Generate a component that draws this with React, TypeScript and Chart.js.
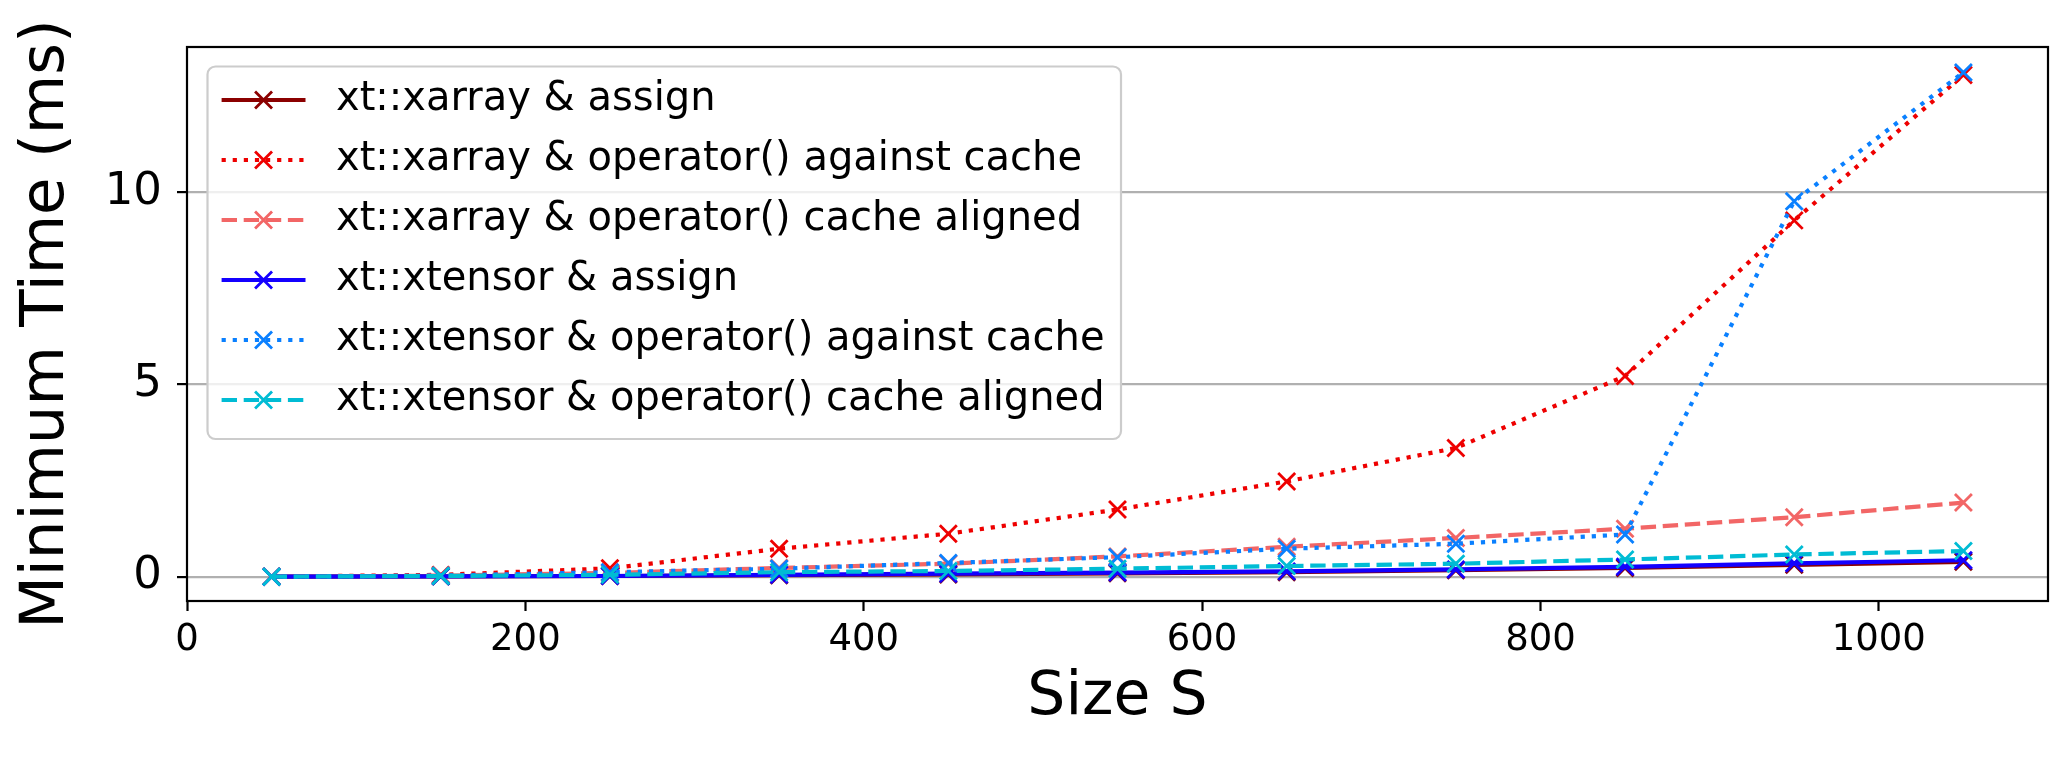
import React, { useEffect, useRef } from 'react';
import { Chart, registerables } from 'chart.js';

Chart.register(...registerables);

// ---- data ----
const sizes = [50, 150, 250, 350, 450, 550, 650, 750, 850, 950, 1050];

const seriesNames = [
  'xt::xarray & assign',
  'xt::xarray & operator() against cache',
  'xt::xarray & operator() cache aligned',
  'xt::xtensor & assign',
  'xt::xtensor & operator() against cache',
  'xt::xtensor & operator() cache aligned',
];

const xarrayAssign = [0.003, 0.01, 0.02, 0.04, 0.06, 0.09, 0.12, 0.17, 0.23, 0.31, 0.39];
const xarrayOpAgainst = [0.003, 0.05, 0.22, 0.73, 1.12, 1.75, 2.48, 3.35, 5.22, 9.27, 13.05];
const xarrayOpAligned = [0.003, 0.03, 0.1, 0.23, 0.34, 0.53, 0.78, 1.01, 1.25, 1.55, 1.93];
const xtensorAssign = [0.003, 0.01, 0.02, 0.05, 0.08, 0.11, 0.14, 0.19, 0.26, 0.35, 0.43];
const xtensorOpAgainst = [0.003, 0.03, 0.12, 0.21, 0.36, 0.51, 0.73, 0.86, 1.1, 9.77, 13.12];
const xtensorOpAligned = [0.003, 0.02, 0.05, 0.12, 0.15, 0.21, 0.28, 0.34, 0.45, 0.58, 0.67];

const xTickValues = [0, 200, 400, 600, 800, 1000];
const yTickValues = [0, 5, 10];

const xTitle = 'Size S';
const yTitle = 'Minimum Time (ms)';

// ---- styles ----
const W = 2071;
const H = 761;
const FONT = "'DejaVu Sans', sans-serif";
const LW = 4.2;
const DOTTED = [4.2, 6.9];
const DASHED = [15.4, 6.7];
const seriesStyles = [
  { color: '#8b0000', dash: [] as number[] },
  { color: '#ee0000', dash: DOTTED },
  { color: '#f26666', dash: DASHED },
  { color: '#1400ff', dash: [] as number[] },
  { color: '#0a80ff', dash: DOTTED },
  { color: '#00bcd4', dash: DASHED },
];

export default function App() {
  const ref = useRef<HTMLCanvasElement | null>(null);

  useEffect(() => {
    const canvas = ref.current;
    if (!canvas) return;
    const seriesValues = [
      xarrayAssign,
      xarrayOpAgainst,
      xarrayOpAligned,
      xtensorAssign,
      xtensorOpAgainst,
      xtensorOpAligned,
    ];
    const n = seriesValues.length;
    const datasets = seriesValues.map((vals, i) => ({
      label: seriesNames[i],
      data: sizes.map((s, j) => ({ x: s, y: vals[j] })),
      borderColor: seriesStyles[i].color,
      backgroundColor: seriesStyles[i].color,
      borderWidth: LW,
      borderDash: seriesStyles[i].dash,
      borderCapStyle: 'butt',
      pointStyle: 'crossRot',
      pointRadius: 12,
      pointBorderWidth: 2.8,
      pointBorderColor: seriesStyles[i].color,
      pointBackgroundColor: seriesStyles[i].color,
      fill: false,
      tension: 0,
      order: n - 1 - i,
    }));

    const frameAndLegend = {
      id: 'frameAndLegend',
      afterDatasetsDraw(chart: any) {
        const { ctx, chartArea } = chart;
        ctx.save();
        // spines
        ctx.setLineDash([]);
        ctx.strokeStyle = '#000';
        ctx.lineWidth = 2.2;
        ctx.strokeRect(chartArea.left, chartArea.top, chartArea.right - chartArea.left, chartArea.bottom - chartArea.top);

        // legend box
        const bx = 207.5, by = 66.5, bw = 913.5, bh = 372.5, r = 8;
        ctx.beginPath();
        ctx.moveTo(bx + r, by);
        ctx.lineTo(bx + bw - r, by);
        ctx.arcTo(bx + bw, by, bx + bw, by + r, r);
        ctx.lineTo(bx + bw, by + bh - r);
        ctx.arcTo(bx + bw, by + bh, bx + bw - r, by + bh, r);
        ctx.lineTo(bx + r, by + bh);
        ctx.arcTo(bx, by + bh, bx, by + bh - r, r);
        ctx.lineTo(bx, by + r);
        ctx.arcTo(bx, by, bx + r, by, r);
        ctx.closePath();
        ctx.fillStyle = 'rgba(255,255,255,0.8)';
        ctx.fill();
        ctx.strokeStyle = '#cccccc';
        ctx.lineWidth = 2.2;
        ctx.stroke();

        const x0 = 221.6, x1 = 305.5, xm = (x0 + x1) / 2, tx = 336;
        chart.data.datasets.forEach((ds: any, i: number) => {
          const y = 100 + i * 60;
          ctx.strokeStyle = ds.borderColor;
          ctx.lineWidth = LW;
          ctx.lineCap = 'butt';
          ctx.setLineDash(ds.borderDash || []);
          ctx.beginPath();
          ctx.moveTo(x0, y);
          ctx.lineTo(x1, y);
          ctx.stroke();
          ctx.setLineDash([]);
          ctx.lineWidth = 2.8;
          const o = 12 * Math.SQRT1_2;
          ctx.beginPath();
          ctx.moveTo(xm - o, y - o);
          ctx.lineTo(xm + o, y + o);
          ctx.moveTo(xm - o, y + o);
          ctx.lineTo(xm + o, y - o);
          ctx.stroke();
          ctx.fillStyle = '#000';
          ctx.font = `40px ${FONT}`;
          ctx.textAlign = 'left';
          ctx.textBaseline = 'middle';
          ctx.fillText(ds.label, tx, y);
        });
        ctx.restore();
      },
    };

    const chart = new Chart(canvas, {
      type: 'line',
      data: { datasets: datasets as any },
      options: {
        responsive: false,
        animation: false,
        devicePixelRatio: 1,
        events: [],
        layout: { padding: { left: 0, right: 23, top: 47, bottom: 0 } },
        plugins: { legend: { display: false }, tooltip: { enabled: false } },
        scales: {
          x: {
            type: 'linear',
            min: 0,
            max: 1100,
            afterBuildTicks: (s: any) => {
              s.ticks = xTickValues.map((v) => ({ value: v }));
            },
            afterFit: (s: any) => {
              s.height = 160;
            },
            grid: {
              display: true,
              drawOnChartArea: false,
              drawTicks: true,
              tickLength: 10,
              tickWidth: 2.2,
              tickColor: '#000',
            },
            border: { display: false },
            ticks: {
              font: { family: FONT, size: 37 },
              color: '#000',
              padding: 7,
              maxRotation: 0,
              autoSkip: false,
              callback: (v: any) => String(v),
            },
            title: {
              display: true,
              text: xTitle,
              font: { family: FONT, size: 60 },
              color: '#000',
              padding: { top: 0, bottom: 27 },
            },
          },
          y: {
            type: 'linear',
            min: -0.63,
            max: 13.78,
            afterBuildTicks: (s: any) => {
              s.ticks = yTickValues.map((v) => ({ value: v }));
            },
            afterFit: (s: any) => {
              s.width = 187;
            },
            grid: {
              display: true,
              drawOnChartArea: true,
              drawTicks: true,
              color: '#b0b0b0',
              lineWidth: 2.2,
              tickLength: 10,
              tickWidth: 2.2,
              tickColor: '#000',
            },
            border: { display: false },
            ticks: {
              font: { family: FONT, size: 45 },
              color: '#000',
              padding: 15,
              autoSkip: false,
              callback: (v: any) => String(v),
            },
            title: {
              display: true,
              text: yTitle,
              font: { family: FONT, size: 61 },
              color: '#000',
              padding: { top: 11, bottom: 0 },
            },
          },
        },
      } as any,
      plugins: [frameAndLegend],
    });
    return () => chart.destroy();
  }, []);

  return (
    <div style={{ position: 'fixed', left: 0, top: 0, width: W, height: H, background: '#fff' }}>
      <canvas ref={ref} width={W} height={H} style={{ width: W, height: H, display: 'block' }} />
    </div>
  );
}
